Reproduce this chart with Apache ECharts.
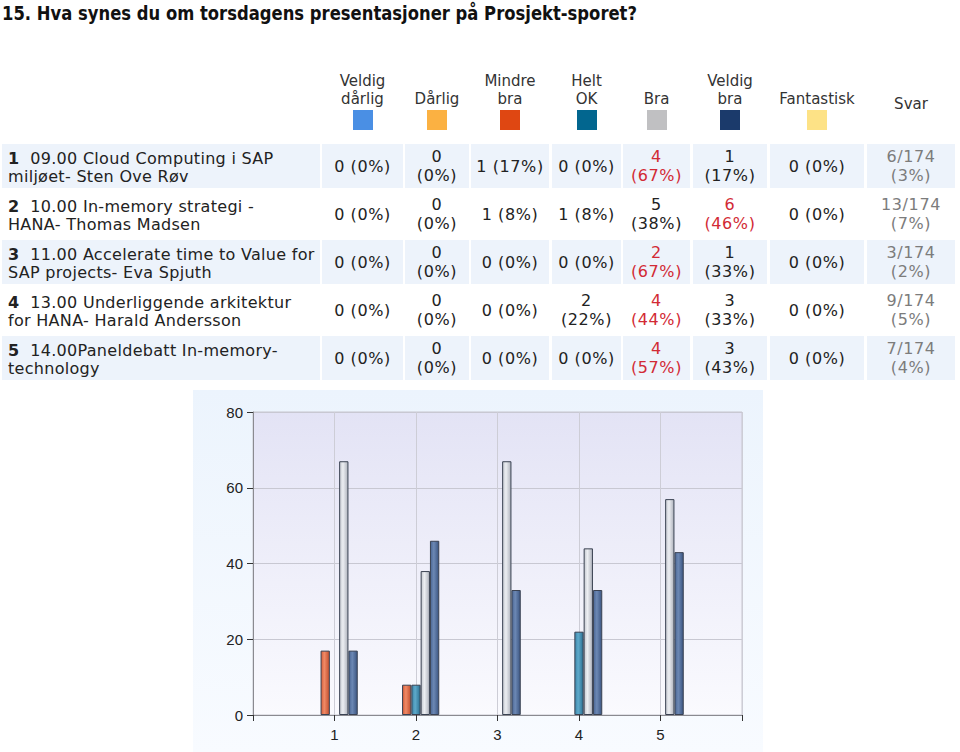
<!DOCTYPE html>
<html><head><meta charset="utf-8">
<script src="https://cdn.jsdelivr.net/npm/echarts/dist/echarts.min.js"></script>
<style>
html,body{margin:0;padding:0;background:#fff;width:960px;height:752px;overflow:hidden;}
#page{position:relative;width:960px;height:752px;}
#title{position:absolute;left:2px;top:2px;font-family:'DejaVu Sans',sans-serif;font-weight:bold;font-size:19px;line-height:22px;color:#111;white-space:nowrap;transform-origin:0 0;}
.hdr{position:absolute;display:flex;align-items:flex-end;justify-content:center;font-family:'DejaVu Sans',sans-serif;font-size:15px;color:#333;text-align:center;line-height:18px;white-space:pre;}
.sw{position:absolute;width:20px;height:20px;}
.cell{position:absolute;display:flex;align-items:center;justify-content:center;text-align:center;font-family:'DejaVu Sans',sans-serif;font-size:16px;letter-spacing:0.6px;line-height:19px;color:#222;box-sizing:border-box;padding:0 4.5px;}
.lab{display:block;text-align:left;padding:6px 0 0 6px;letter-spacing:0.3px;white-space:pre;}
.lab div{height:18px;line-height:18px;}
#chart{position:absolute;left:193px;top:390px;width:570px;height:362px;}
</style></head>
<body><div id="page"><div id="title"></div><div id="chart"></div></div>
<script>
// ---------- data ----------
const titleText = '15. Hva synes du om torsdagens presentasjoner på Prosjekt-sporet?';
const scaleLabels = ['Veldig\ndårlig', 'Dårlig', 'Mindre\nbra', 'Helt\nOK', 'Bra', 'Veldig\nbra', 'Fantastisk'];
const answerLabel = 'Svar';
const categories = [1, 2, 3, 4, 5];
const xTickLabels = ['1', '2', '3', '4', '5'];
const yTicks = [0, 20, 40, 60, 80];
const talkLine1 = [
  '09.00 Cloud Computing i SAP',
  '10.00 In-memory strategi -',
  '11.00 Accelerate time to Value for',
  '13.00 Underliggende arkitektur',
  '14.00Paneldebatt In-memory-'
];
const talkLine2 = [
  'miljøet- Sten Ove Røv',
  'HANA- Thomas Madsen',
  'SAP projects- Eva Spjuth',
  'for HANA- Harald Andersson',
  'technology'
];
const veldigDarligN = [0, 0, 0, 0, 0];
const veldigDarligPct = [0, 0, 0, 0, 0];
const darligN = [0, 0, 0, 0, 0];
const darligPct = [0, 0, 0, 0, 0];
const mindreBraN = [1, 1, 0, 0, 0];
const mindreBraPct = [17, 8, 0, 0, 0];
const heltOkN = [0, 1, 0, 2, 0];
const heltOkPct = [0, 8, 0, 22, 0];
const braN = [4, 5, 2, 4, 4];
const braPct = [67, 38, 67, 44, 57];
const veldigBraN = [1, 6, 1, 3, 3];
const veldigBraPct = [17, 46, 33, 33, 43];
const fantastiskN = [0, 0, 0, 0, 0];
const fantastiskPct = [0, 0, 0, 0, 0];
const svarN = [6, 13, 3, 9, 7];
const svarTotal = 174;
const svarPct = [3, 7, 2, 5, 4];

// ---------- styles ----------
const swatchColors = ['#4a8fe4', '#fbb142', '#df4712', '#02668f', '#c0c0c2', '#1b3a6b', '#fde286'];
const barGrads = [
  ['#3a7fd4', '#6aa8ee', '#2f6fc0'],
  ['#eaa030', '#fcc468', '#d89020'],
  ['#d45c3a', '#f08a66', '#c24e2e'],
  ['#3a84a8', '#5eaacb', '#2e7294'],
  ['#c4c8d0', '#eceef2', '#aeb2bc'],
  ['#4a6694', '#6c88b4', '#3c5682'],
  ['#f2d070', '#feeaa8', '#e8c260']
];
const colX = [2, 322, 405, 471, 552, 623, 693, 770, 867];
const colW = [318, 81, 64, 78, 69, 67, 74, 94, 88];
const rowTop0 = 144, rowPitch = 48, rowH = 44;
const rowBg = ['#edf3fb', '#ffffff'];

const page = document.getElementById('page');
const titleEl = document.getElementById('title');
titleEl.textContent = titleText;
(function(){
  const w = titleEl.getBoundingClientRect().width;
  titleEl.style.transform = 'scaleX(' + (635 / w).toFixed(4) + ')';
})();

function div(cls, css, html){
  const d = document.createElement('div');
  d.className = cls; Object.assign(d.style, css);
  if (html !== undefined) d.innerHTML = html;
  page.appendChild(d); return d;
}
// header
scaleLabels.forEach((lab, i) => {
  const c = i + 1;
  div('hdr', {left: colX[c] + 'px', width: colW[c] + 'px', top: '60px', height: '48px'}).textContent = lab;
  div('sw', {left: (colX[c] + colW[c] / 2 - 10) + 'px', top: '110px', background: swatchColors[i]});
});
div('hdr', {left: colX[8] + 'px', width: colW[8] + 'px', top: '60px', height: '53px'}).textContent = answerLabel;

// rows
const countSets = [veldigDarligN, darligN, mindreBraN, heltOkN, braN, veldigBraN, fantastiskN];
const pctSets = [veldigDarligPct, darligPct, mindreBraPct, heltOkPct, braPct, veldigBraPct, fantastiskPct];
categories.forEach((cat, r) => {
  const top = rowTop0 + r * rowPitch;
  const bg = rowBg[r % 2];
  div('cell lab', {left: colX[0] + 'px', width: colW[0] + 'px', top: top + 'px', height: rowH + 'px', background: bg},
      '<div><b>' + cat + '</b>  ' + talkLine1[r] + '</div><div>' + talkLine2[r] + '</div>');
  const rowCounts = countSets.map(s => s[r]);
  const mx = Math.max(...rowCounts);
  countSets.forEach((s, k) => {
    const c = k + 1;
    const red = s[r] === mx && mx > 0;
    div('cell', {left: colX[c] + 'px', width: colW[c] + 'px', top: top + 'px', height: rowH + 'px', background: bg, color: red ? '#d22a35' : '#222'},
        '<span>' + s[r] + ' (' + pctSets[k][r] + '%)</span>');
  });
  div('cell', {left: colX[8] + 'px', width: colW[8] + 'px', top: top + 'px', height: rowH + 'px', background: bg, color: '#7c7c7c'},
      '<span>' + svarN[r] + '/' + svarTotal + ' (' + svarPct[r] + '%)</span>');
});

// ---------- chart ----------
const chart = echarts.init(document.getElementById('chart'), null, {renderer: 'svg'});
const G = (a, b, c) => new echarts.graphic.LinearGradient(0, 0, 1, 0, [{offset: 0, color: a}, {offset: 0.4, color: b}, {offset: 1, color: c}]);
const series = pctSets.map((arr, si) => ({
  type: 'bar',
  name: scaleLabels[si].replace('\n', ' '),
  barWidth: 9.3,
  barGap: '0%',
  itemStyle: {color: G(...barGrads[si]), borderColor: '#3a4252', borderWidth: 1},
  data: arr.map((v, i) => ({value: [categories[i], v], itemStyle: v === 0 ? {borderWidth: 0} : undefined}))
}));
chart.setOption({
  animation: false,
  backgroundColor: new echarts.graphic.LinearGradient(0, 0, 0, 1, [{offset: 0, color: '#ecf4fd'}, {offset: 1, color: '#f8fbff'}]),
  grid: {left: 60, top: 22, width: 489, height: 303, show: true, borderColor: '#c6c6ce', borderWidth: 1,
    backgroundColor: new echarts.graphic.LinearGradient(0, 0, 0, 1, [{offset: 0, color: '#e3e3f5'}, {offset: 1, color: '#fafafe'}])},
  xAxis: {type: 'value', min: 0, max: 6, interval: 1,
    axisLine: {show: true, lineStyle: {color: '#8a8a90', width: 1}},
    axisTick: {show: true, inside: false, length: 6, lineStyle: {color: '#333'}},
    splitLine: {show: true, lineStyle: {color: '#cdcdd6'}},
    axisLabel: {margin: 12, color: '#222', fontFamily: 'Liberation Sans, Arial, sans-serif', fontSize: 15,
      formatter: v => { const i = categories.indexOf(v); return i >= 0 ? xTickLabels[i] : ''; }}},
  yAxis: {type: 'value', min: yTicks[0], max: yTicks[yTicks.length - 1], interval: yTicks[1] - yTicks[0],
    axisLine: {show: true, lineStyle: {color: '#8a8a90', width: 1}},
    axisTick: {show: true, inside: false, length: 6, lineStyle: {color: '#333'}},
    splitLine: {show: true, lineStyle: {color: '#c8c8d2'}},
    axisLabel: {margin: 10, color: '#222', fontFamily: 'Liberation Sans, Arial, sans-serif', fontSize: 15}},
  series: series
});
</script></body></html>
